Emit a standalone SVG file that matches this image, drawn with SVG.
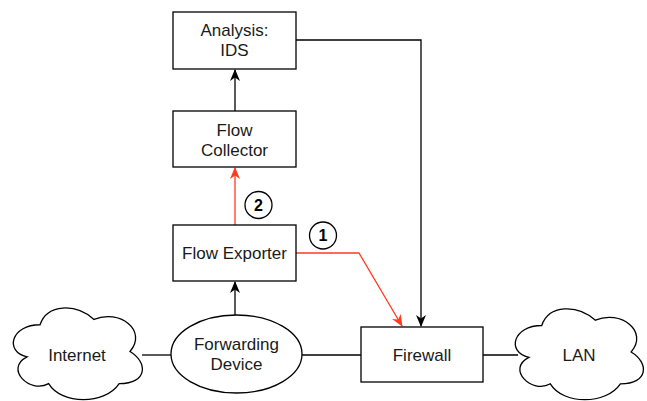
<svg xmlns="http://www.w3.org/2000/svg" width="647" height="401" viewBox="0 0 647 401">
<defs>
<style>
.box{fill:#fff;stroke:#000;stroke-width:1.3}
.lbl{font-family:"Liberation Sans",Arial,sans-serif;font-size:17px;fill:#1a1a1a;text-anchor:middle}
.num{font-family:"Liberation Sans",Arial,sans-serif;font-size:16px;font-weight:bold;fill:#000;text-anchor:middle}
.blk{fill:none;stroke:#000;stroke-width:1.3}
.red{fill:none;stroke:#FF3B1F;stroke-width:1.3}
</style>
<marker id="ab" viewBox="0 0 12 10" refX="11" refY="5" markerWidth="12" markerHeight="10" markerUnits="userSpaceOnUse" orient="auto">
<path d="M0,0 L12,5 L0,10 L3.5,5 Z" fill="#000"/>
</marker>
<marker id="ar" viewBox="0 0 12 10" refX="11" refY="5" markerWidth="12" markerHeight="10" markerUnits="userSpaceOnUse" orient="auto">
<path d="M0,0 L12,5 L0,10 L3.5,5 Z" fill="#FF3B1F"/>
</marker>
</defs>
<g id="connectors">
<line class="blk" x1="142" y1="355" x2="171" y2="355"/>
<line class="blk" x1="302" y1="355" x2="361" y2="355"/>
<line class="blk" x1="483" y1="355" x2="518" y2="355"/>
<line class="blk" x1="235" y1="315" x2="235" y2="282" marker-end="url(#ab)"/>
<line class="red" x1="235" y1="225" x2="235" y2="168" marker-end="url(#ar)"/>
<line class="blk" x1="235" y1="111" x2="235" y2="70" marker-end="url(#ab)"/>
<polyline class="blk" points="296,40 421,40 421,326" marker-end="url(#ab)"/>
<polyline class="red" points="296,253 359,253 402,326" marker-end="url(#ar)"/>
</g>
<g id="analysis">
<rect class="box" x="173" y="12" width="123" height="57"/>
<text class="lbl" x="234.5" y="36">Analysis:</text>
<text class="lbl" x="234.5" y="56">IDS</text>
</g>
<g id="collector">
<rect class="box" x="173" y="111" width="123" height="56"/>
<text class="lbl" x="234.5" y="136">Flow</text>
<text class="lbl" x="234.5" y="156">Collector</text>
</g>
<g id="exporter">
<rect class="box" x="173" y="225" width="123" height="56"/>
<text class="lbl" x="234.5" y="259">Flow Exporter</text>
</g>
<g id="forwarding">
<ellipse class="box" cx="236.5" cy="354" rx="65.5" ry="39"/>
<text class="lbl" x="236.5" y="350">Forwarding</text>
<text class="lbl" x="236.5" y="370">Device</text>
</g>
<g id="firewall">
<rect class="box" x="361" y="327" width="122" height="55"/>
<text class="lbl" x="422" y="361">Firewall</text>
</g>
<g id="internet">
<path class="box" transform="translate(4,298) scale(144,107)" vector-effect="non-scaling-stroke" d="M0.25,0.25 C0.05,0.25 0,0.5 0.16,0.55 C0,0.66 0.18,0.9 0.31,0.8 C0.4,1 0.7,1 0.8,0.8 C1,0.8 1,0.6 0.875,0.5 C1,0.3 0.8,0.1 0.625,0.2 C0.5,0.05 0.3,0.05 0.25,0.25 Z"/>
<text class="lbl" x="77" y="361">Internet</text>
</g>
<g id="lan">
<path class="box" transform="translate(506,299) scale(143,106)" vector-effect="non-scaling-stroke" d="M0.25,0.25 C0.05,0.25 0,0.5 0.16,0.55 C0,0.66 0.18,0.9 0.31,0.8 C0.4,1 0.7,1 0.8,0.8 C1,0.8 1,0.6 0.875,0.5 C1,0.3 0.8,0.1 0.625,0.2 C0.5,0.05 0.3,0.05 0.25,0.25 Z"/>
<text class="lbl" x="579" y="361">LAN</text>
</g>
<g id="badge2">
<circle class="box" cx="258.5" cy="205" r="13.5"/>
<text class="num" x="258.5" y="210.5">2</text>
</g>
<g id="badge1">
<circle class="box" cx="323" cy="235.5" r="13.5"/>
<text class="num" x="323" y="241">1</text>
</g>
</svg>
